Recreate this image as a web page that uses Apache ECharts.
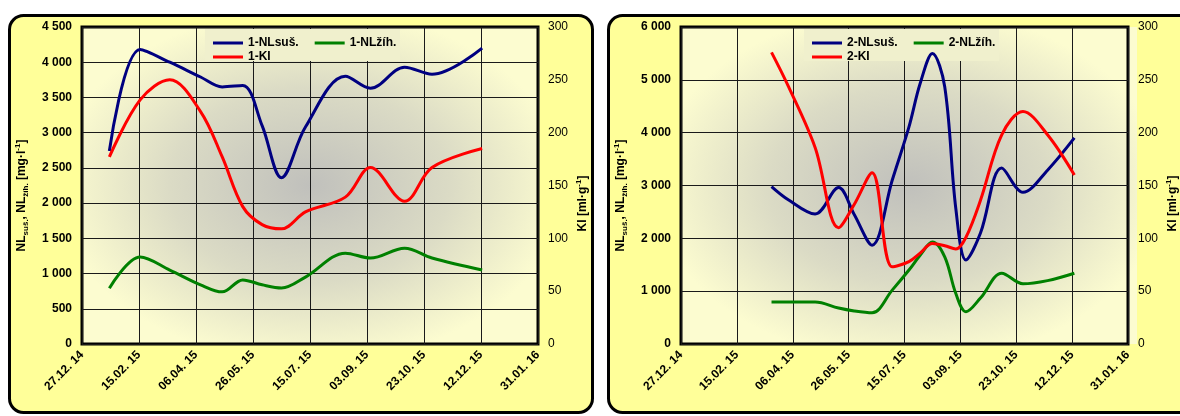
<!DOCTYPE html>
<html>
<head>
<meta charset="utf-8">
<script src="https://cdn.jsdelivr.net/npm/echarts@6/dist/echarts.min.js"></script>
<style>
  html, body { margin: 0; padding: 0; background: #ffffff; }
  #chart { width: 1180px; height: 416px; }
</style>
</head>
<body>
<div id="chart"></div>
<script>
// Sampling dates and measured values, line 1
const dates1 = ['2015-01-20','2015-02-16','2015-03-14','2015-04-10','2015-04-29','2015-05-17','2015-06-03',
                '2015-06-20','2015-07-11','2015-08-15','2015-09-06','2015-10-06','2015-10-30','2015-12-13'];
const nlSus1 = [2740, 4180, 4000, 3790, 3650, 3670, 3100, 2360, 3080, 3800, 3630, 3930, 3830, 4200];
const nlZih1 = [790, 1235, 1050, 840, 740, 910, 840, 795, 950, 1290, 1220, 1360, 1220, 1050];
const ki1    = [177, 231, 250, 220, 177, 130, 113, 109, 125, 139, 167, 135, 167, 185];

// Sampling dates and measured values, line 2
const dates2 = ['2015-03-18','2015-04-02','2015-04-26','2015-05-17','2015-05-31','2015-06-16','2015-07-04',
                '2015-07-19','2015-07-29','2015-08-09','2015-08-20','2015-08-30','2015-09-08','2015-09-21',
                '2015-10-10','2015-10-29','2015-11-20','2015-12-14'];
const nlSus2 = [2980, 2730, 2460, 2960, 2450, 1870, 3100, 4110, 4930, 5500, 4870, 2550, 1590, 2100, 3330, 2870, 3290, 3900];
const nlZih2 = [795, 795, 795, 680, 625, 590, 1020, 1400, 1680, 1930, 1650, 950, 610, 870, 1340, 1140, 1200, 1340];
const ki2    = [276, 244, 186, 110, 132, 162, 73, 78, 86, 95, 93, 90, 101, 136, 198, 220, 198, 160];

// Series names
const names1 = ['1-NLsuš.', '1-NLžíh.', '1-KI'];
const names2 = ['2-NLsuš.', '2-NLžíh.', '2-KI'];

// Time axis: days counted from 27.12.2014, ticks every 50 days
const AXIS_START = '2014-12-27';
const AXIS_DAYS = 400;
const AXIS_STEP = 50;

const FF = "'Liberation Sans', Arial, Helvetica, sans-serif";
const DAY = 86400000;
const START = Date.parse(AXIS_START);
const toDay = s => Math.round((Date.parse(s) - START) / DAY);
const pad = n => (n < 10 ? '0' : '') + n;
const dayLabel = d => {
  const t = new Date(START + d * DAY);
  return pad(t.getUTCDate()) + '.' + pad(t.getUTCMonth() + 1) + '. ' + pad(t.getUTCFullYear() % 100);
};
const thousands = v => String(v).replace(/\B(?=(\d{3})+(?!\d))/g, ' ');
const pairs = (dates, vals) => dates.map((d, i) => [toDay(d), vals[i]]);

const C_BLUE = '#000080', C_GREEN = '#008000', C_RED = '#ff0000';

const nameRich = {
  b: { fontFamily: FF, fontWeight: 'bold', fontSize: 12, color: '#000', lineHeight: 16, verticalAlign: 'middle' },
  s: { fontFamily: FF, fontWeight: 'bold', fontSize: 8, color: '#000', lineHeight: 16, verticalAlign: 'bottom' },
  p: { fontFamily: FF, fontWeight: 'bold', fontSize: 8, color: '#000', lineHeight: 16, verticalAlign: 'top' }
};
const NL_NAME = '{b|NL}{s|suš.}{b|, NL}{s|žíh.}{b| [mg·l}{p|-1}{b|]}';
const KI_NAME = '{b|KI [ml·g}{p|-1}{b|]}';

const PLOT_TOP = 27, PLOT_W = 456, PLOT_H = 317;
const LEFTS = [82, 681];

function xAxisFor(gi) {
  return {
    type: 'value', gridIndex: gi, min: 0, max: AXIS_DAYS, interval: AXIS_STEP,
    axisLine: { show: false }, axisTick: { show: false },
    splitLine: { show: true, lineStyle: { color: '#1a1a1a', width: 1 } },
    axisLabel: {
      rotate: 45, margin: 9, fontFamily: FF, fontWeight: 'bold', fontSize: 12, color: '#000',
      formatter: dayLabel, showMinLabel: true, showMaxLabel: true
    }
  };
}
function nlAxis(gi, max, step) {
  return {
    type: 'value', gridIndex: gi, position: 'left', min: 0, max: max, interval: step,
    axisLine: { show: false }, axisTick: { show: false },
    splitLine: { show: true, lineStyle: { color: '#1a1a1a', width: 1 } },
    axisLabel: { margin: 10, fontFamily: FF, fontWeight: 'bold', fontSize: 12, color: '#000', formatter: thousands },
    name: NL_NAME, nameLocation: 'middle', nameRotate: 90, nameGap: 52,
    nameTextStyle: { rich: nameRich, padding: [0, 20, 0, 0] }
  };
}
function kiAxis(gi) {
  return {
    type: 'value', gridIndex: gi, position: 'right', min: 0, max: 300, interval: 50,
    axisLine: { show: false }, axisTick: { show: false }, splitLine: { show: false },
    axisLabel: { margin: 10, fontFamily: FF, fontSize: 12, color: '#000' },
    name: KI_NAME, nameLocation: 'middle', nameRotate: 90, nameGap: 37,
    nameTextStyle: { rich: nameRich, padding: [0, 36, 0, 0] }
  };
}
function line(name, xi, yi, data, color) {
  return {
    type: 'line', name: name, xAxisIndex: xi, yAxisIndex: yi, data: data,
    smooth: 0.35, symbol: 'none', lineStyle: { color: color, width: 3 }, itemStyle: { color: color }
  };
}
function legendRow(names, left, top) {
  return {
    data: names, left: left, top: top, orient: 'horizontal', padding: 0,
    icon: 'rect', itemWidth: 30, itemHeight: 3, itemGap: 16,
    textStyle: { fontFamily: FF, fontWeight: 'bold', fontSize: 12, color: '#000', lineHeight: 14 }
  };
}
function plotBackground(left) {
  return {
    type: 'rect', x: left, y: PLOT_TOP, scaleY: PLOT_H / PLOT_W, z: -20, silent: true,
    shape: { x: 0, y: 0, width: PLOT_W, height: PLOT_W },
    style: {
      fill: new echarts.graphic.RadialGradient(0.5, 0.5, 0.56, [
        { offset: 0, color: '#c0c0bc' },
        { offset: 0.55, color: '#dbdbc5' },
        { offset: 1, color: '#fcfcd0' }
      ])
    }
  };
}
function card(x, w) {
  return {
    type: 'rect', z: -30, silent: true,
    shape: { x: x, y: 15.5, width: w, height: 397, r: 14 },
    style: { fill: '#ffff99', stroke: '#000', lineWidth: 3 }
  };
}
function legendBox(x) {
  return {
    type: 'rect', z: 1, silent: true,
    shape: { x: x, y: 29, width: 195, height: 32 },
    style: { fill: '#f0f0cd' }
  };
}

const chart = echarts.init(document.getElementById('chart'), null, { renderer: 'canvas' });
chart.setOption({
  animation: false,
  backgroundColor: '#ffffff',
  graphic: [
    card(9.5, 583), card(608.5, 640),
    plotBackground(LEFTS[0]), plotBackground(LEFTS[1]),
    legendBox(205), legendBox(804)
  ],
  grid: LEFTS.map(l => ({
    left: l, top: PLOT_TOP, width: PLOT_W, height: PLOT_H,
    show: true, backgroundColor: 'transparent', borderColor: '#000', borderWidth: 3
  })),
  xAxis: [xAxisFor(0), xAxisFor(1)],
  yAxis: [nlAxis(0, 4500, 500), kiAxis(0), nlAxis(1, 6000, 1000), kiAxis(1)],
  legend: [
    legendRow(names1.slice(0, 2), 213, 36), legendRow(names1.slice(2), 213, 50),
    legendRow(names2.slice(0, 2), 812, 36), legendRow(names2.slice(2), 812, 50)
  ],
  series: [
    line(names1[0], 0, 0, pairs(dates1, nlSus1), C_BLUE),
    line(names1[1], 0, 0, pairs(dates1, nlZih1), C_GREEN),
    line(names1[2], 0, 1, pairs(dates1, ki1), C_RED),
    line(names2[0], 1, 2, pairs(dates2, nlSus2), C_BLUE),
    line(names2[1], 1, 2, pairs(dates2, nlZih2), C_GREEN),
    line(names2[2], 1, 3, pairs(dates2, ki2), C_RED)
  ]
});
</script>
</body>
</html>
